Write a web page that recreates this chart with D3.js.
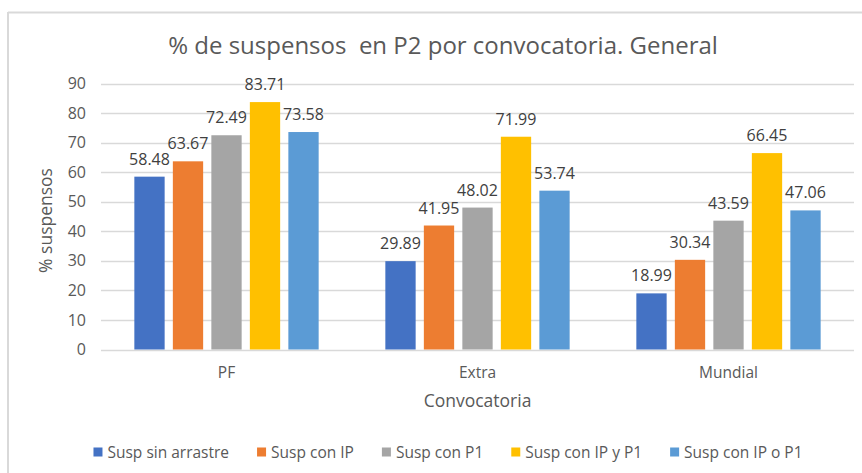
<!DOCTYPE html>
<html><head><meta charset="utf-8">
<script src="https://cdn.jsdelivr.net/npm/d3@7"></script>
<style>body{margin:0;background:#fff;}svg{display:block;}text{font-family:"Open Sans",sans-serif;}</style>
</head><body>
<svg id="c" width="862" height="473"></svg>
<script>
const categories = ["PF", "Extra", "Mundial"];
const seriesNames = ["Susp sin arrastre", "Susp con IP", "Susp con P1", "Susp con IP y P1", "Susp con IP o P1"];
const suspSinArrastre = [58.48, 29.89, 18.99];
const suspConIP = [63.67, 41.95, 30.34];
const suspConP1 = [72.49, 48.02, 43.59];
const suspConIPyP1 = [83.71, 71.99, 66.45];
const suspConIPoP1 = [73.58, 53.74, 47.06];
const yTicks = [0, 10, 20, 30, 40, 50, 60, 70, 80, 90];
const colors = ["#4472C4", "#ED7D31", "#A5A5A5", "#FFC000", "#5B9BD5"];

const values = [suspSinArrastre, suspConIP, suspConP1, suspConIPyP1, suspConIPoP1];
const svg = d3.select("#c");
const textCol = "#595959";

// frame
svg.append("line").attr("x1", 8).attr("y1", 12.5).attr("x2", 862).attr("y2", 12.5).attr("stroke", "#D9D9D9").attr("stroke-width", 2);
svg.append("line").attr("x1", 8).attr("y1", 12).attr("x2", 8).attr("y2", 473).attr("stroke", "#D9D9D9").attr("stroke-width", 2);

const L = 101, R = 854, T = 83.5, B = 349.5;
const x0 = d3.scaleBand().domain(categories).range([L, R]);
const x1 = d3.scaleBand().domain(seriesNames).range([0, x0.bandwidth()]).paddingInner(0.213).paddingOuter(0.866);
const y = d3.scaleLinear().domain([0, 90]).range([B, T]);

// gridlines
svg.append("g").selectAll("line").data(yTicks).join("line")
  .attr("x1", L).attr("x2", R).attr("y1", d => Math.round(y(d)) + 0.5).attr("y2", d => Math.round(y(d)) + 0.5)
  .attr("stroke", "#D9D9D9").attr("stroke-width", 1.3);

// y axis labels
const yAxis = d3.axisLeft(y).tickValues(yTicks).tickSize(0).tickPadding(0);
const ga = svg.append("g").attr("transform", `translate(86,0)`).call(yAxis);
ga.select(".domain").remove();
ga.selectAll("text").attr("fill", textCol).style("font-size", "16px").style("font-family", "Open Sans");

// bars
const data = [];
categories.forEach((c, i) => seriesNames.forEach((s, j) => data.push({c, s, j, v: values[j][i]})));
svg.append("g").selectAll("rect").data(data).join("rect")
  .attr("x", d => x0(d.c) + x1(d.s)).attr("width", x1.bandwidth())
  .attr("y", d => y(d.v)).attr("height", d => y(0) - y(d.v))
  .attr("fill", d => colors[d.j]);

// data labels
svg.append("g").selectAll("text").data(data).join("text")
  .attr("x", d => x0(d.c) + x1(d.s) + x1.bandwidth() / 2)
  .attr("y", d => y(d.v) - 12)
  .attr("text-anchor", "middle").attr("fill", "#404040").style("font-size", "16px")
  .text(d => d.v.toFixed(2));

// category axis
const xAxis = d3.axisBottom(x0).tickSize(0).tickPadding(0);
const gx = svg.append("g").attr("transform", `translate(0,${B + 28})`).call(xAxis);
gx.select(".domain").remove();
gx.selectAll("text").attr("fill", textCol).style("font-size", "15.5px").style("font-family", "Open Sans").attr("dy", 0);

// axis titles
svg.append("text").attr("x", (L + R) / 2).attr("y", 407).attr("text-anchor", "middle")
  .attr("fill", textCol).style("font-size", "17.5px").text("Convocatoria");
svg.append("text").attr("transform", `translate(52,${(T + B) / 2 + 4}) rotate(-90)`).attr("text-anchor", "middle")
  .attr("fill", textCol).style("font-size", "17.5px").text("% suspensos");

// title
svg.append("text").attr("x", 443).attr("y", 54).attr("text-anchor", "middle")
  .attr("fill", textCol).style("font-size", "24px").text("% de suspensos  en P2 por convocatoria. General").attr("xml:space", "preserve");

// legend
const lg = svg.append("g");
let cx = 0;
seriesNames.forEach((s, j) => {
  const g = lg.append("g");
  g.append("rect").attr("x", cx).attr("y", -4.5).attr("width", 9).attr("height", 9).attr("fill", colors[j]);
  const t = g.append("text").attr("x", cx + 14).attr("y", 5.5).attr("fill", textCol).style("font-size", "15.5px").text(s);
  cx += 14 + t.node().getComputedTextLength() + 28;
});
const lw = cx - 28;
lg.attr("transform", `translate(${448 - lw / 2},452)`);
</script>
</body></html>
